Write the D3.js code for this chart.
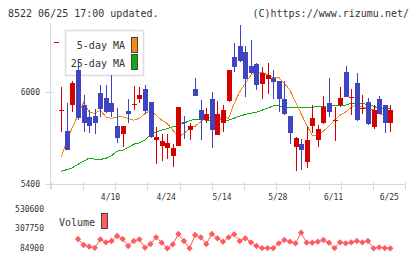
<!DOCTYPE html>
<html>
<head>
<meta charset="utf-8">
<script src="https://cdn.jsdelivr.net/npm/d3@7"></script>
<style>
  body { margin: 0; background: #fff; }
  svg { display: block; }
  text { font-family: "DejaVu Sans Mono", monospace; fill: #333; }
</style>
</head>
<body>
<div id="chart"></div>
<script>
// daily candles (60 trading days), red = up, blue = down
const open  = [5884,5747,5917,6146,5917,5838,5846,5995,5965,5930, 5779,5730,5877,5921,5956,6021,5938,5688,5649,5635,
               5583,5651,5808,5753,6021,5884,5823,5956,5721,5801, 5943,6229,6303,6261,6172,6185,6052,6087,6095,6074,
               5956,5845,5644,5666,5546,5779,5692,5797,5934,5817, 5917,6131,5969,6063,5893,5938,5775,5956,5917,5801];
const high  = [6034,5930,6074,6218,5982,5884,5891,6048,6048,6113, 5897,5779,5956,6043,6036,6048,5940,5773,5727,5727,
               5666,5906,5845,5801,6091,5949,5895,6000,5943,5917, 6148,6320,6438,6303,6342,6190,6163,6193,6146,6076,
               6074,5847,5707,5694,5779,5917,5786,5976,6091,5902, 6036,6172,6019,6124,5982,5961,5917,5976,5919,5917];
const low   = [5742,5622,5873,5819,5742,5734,5728,5838,5864,5840, 5670,5644,5797,5884,5928,5862,5700,5531,5552,5568,
               5513,5650,5699,5692,5976,5688,5797,5634,5719,5742, 5938,6131,6200,5971,6120,6015,5956,5989,5956,5873,
               5855,5662,5487,5496,5507,5732,5644,5795,5840,5683, 5902,5969,5851,5814,5858,5790,5760,5856,5732,5742];
const close = [5886,5622,6063,5834,5797,5781,5797,5894,5873,5873, 5703,5779,5856,5923,5982,5879,5709,5709,5681,5668,
               5635,5904,5797,5779,5978,5819,5862,5753,5862,5884, 6146,6167,6207,6087,6124,6048,6124,6113,6069,5954,
               5857,5732,5705,5622,5688,5836,5764,5906,5873,5819, 5961,5971,5971,5819,5895,5792,5884,5858,5801,5884];

const ma5  = [5579,5688,5773,5851,5936,5871,5862,5884,5840,5830, 5840,5840,5830,5819,5830,5862,5879,5851,5819,5797,
              5753,5709,5732,5764,5779,5808,5840,5836,5830,5840, 5830,5928,6004,6059,6113,6135,6131,6113,6098,6098,
              6059,6015,5938,5862,5786,5721,5721,5747,5779,5819, 5851,5873,5902,5921,5902,5895,5889,5862,5847,5847];
const ma25 = [5485,5496,5508,5531,5550,5572,5564,5562,5570,5586, 5616,5622,5640,5662,5670,5688,5727,5742,5753,5764,
              5775,5786,5801,5815,5825,5822,5819,5819,5822,5819, 5819,5832,5845,5856,5864,5871,5884,5897,5912,5912,
              5907,5902,5902,5902,5902,5902,5910,5910,5912,5913, 5917,5917,5928,5928,5928,5921,5910,5895,5895,5895];

const volume = [null,null,null,190000,122300,103000,90000,187000,153000,168000,
                224000,190000,111000,168000,187000,91700,133700,209700,148400,84900,
                130300,247000,168000,84900,235700,209700,133700,247000,198300,159800,
                209700,243700,168000,198300,153000,111000,87000,87000,87000,141600,
                179000,159800,141600,261800,148400,148400,159800,179000,148400,87000,
                153000,141600,153000,168000,153000,168000,84900,96200,87000,84900];

const dateLabels = ["4/10", "4/24", "5/14", "5/28", "6/11", "6/25"];
const dateIndex  = [9, 19, 29, 39, 49, 59];
const priceTicks = [5400, 6000];
const volTicks   = [84900, 307750, 530600];

const width = 420, height = 259;
const red = "#d70000", blue = "#3f44c0", orange = "#f28a16", green = "#14a814", volColor = "#ff5a60";
const axisColor = "#d9d9d9";

const svg = d3.select("#chart").append("svg")
    .attr("width", width)
    .attr("height", height);

svg.append("rect").attr("width", width).attr("height", height).attr("fill", "#fff");

const x = d3.scaleLinear().domain([0, 59]).range([61.3, 390.3]);
const y = d3.scaleLinear().domain([5400, 6440]).range([184.3, 25]);
const yv = d3.scaleLinear().domain([84900, 530600]).range([248.3, 209]);
const grid = d3.scaleLinear().domain([0, 11]).range([50.7, 405.3]);

// header
svg.append("text").attr("x", 8).attr("y", 17).style("font-size", "10px")
    .text("8522 06/25 17:00 updated.");
svg.append("text").attr("x", 409).attr("y", 17).attr("text-anchor", "end").style("font-size", "10px")
    .text("(C)https://www.rizumu.net/");

// axes
const axes = svg.append("g").attr("stroke", axisColor).attr("stroke-width", 1).attr("shape-rendering", "crispEdges");
axes.append("line").attr("x1", 50.5).attr("x2", 50.5).attr("y1", 23).attr("y2", 189);
axes.append("line").attr("x1", 50.5).attr("x2", 405.5).attr("y1", 184.5).attr("y2", 184.5);
axes.selectAll(".xt").data(d3.range(12)).enter().append("line")
    .attr("x1", d => Math.round(grid(d)) + 0.5).attr("x2", d => Math.round(grid(d)) + 0.5)
    .attr("y1", 181.5).attr("y2", 189.5);
axes.selectAll(".yt").data(priceTicks).enter().append("line")
    .attr("x1", 45).attr("x2", 54)
    .attr("y1", d => Math.round(y(d)) + 0.5).attr("y2", d => Math.round(y(d)) + 0.5);

svg.selectAll(".ylab").data(priceTicks).enter().append("text")
    .attr("x", 40).attr("y", d => y(d)).attr("dy", "0.35em")
    .attr("text-anchor", "end").style("font-size", "8px")
    .text(d => d);

svg.selectAll(".xlab").data(dateLabels).enter().append("text")
    .attr("x", (d, i) => x(dateIndex[i]) - 1).attr("y", 200)
    .attr("text-anchor", "middle").style("font-size", "8px")
    .text(d => d);

// legend
const lg = svg.append("g");
lg.append("rect").attr("x", 65.5).attr("y", 30.5).attr("width", 78).attr("height", 45)
    .attr("fill", "#fff").attr("stroke", "#dcdcdc").attr("stroke-width", 1.5);
lg.append("text").attr("x", 125).attr("y", 49).attr("text-anchor", "end").style("font-size", "10px").text("5-day MA");
lg.append("text").attr("x", 125).attr("y", 67).attr("text-anchor", "end").style("font-size", "10px").text("25-day MA");
lg.append("rect").attr("x", 131.5).attr("y", 37.5).attr("width", 6).attr("height", 15)
    .attr("fill", orange).attr("stroke", "#444");
lg.append("rect").attr("x", 131.5).attr("y", 54.5).attr("width", 6).attr("height", 15)
    .attr("fill", green).attr("stroke", "#444");
svg.append("line").attr("x1", 54).attr("x2", 59).attr("y1", 42.5).attr("y2", 42.5)
    .attr("stroke", red).attr("stroke-width", 1);

// moving averages
const idx = d3.range(open.length);
const line = arr => d3.line().x(i => x(i)).y(i => y(arr[i]));
svg.append("path").datum(idx).attr("d", line(ma25))
    .attr("fill", "none").attr("stroke", green).attr("stroke-width", 1).attr("shape-rendering", "crispEdges");
svg.append("path").datum(idx).attr("d", line(ma5))
    .attr("fill", "none").attr("stroke", orange).attr("stroke-width", 1).attr("shape-rendering", "crispEdges");

// candles
const bw = 5;
const candles = svg.append("g").attr("shape-rendering", "crispEdges")
    .selectAll("g").data(idx).enter().append("g");
candles.append("line")
    .attr("x1", i => Math.round(x(i)) + 0.5).attr("x2", i => Math.round(x(i)) + 0.5)
    .attr("y1", i => y(high[i])).attr("y2", i => y(low[i]))
    .attr("stroke", i => close[i] >= open[i] ? red : blue);
candles.append("rect")
    .attr("x", i => Math.round(x(i)) - 2)
    .attr("y", i => y(Math.max(open[i], close[i])))
    .attr("width", bw)
    .attr("height", i => Math.max(1, Math.abs(y(open[i]) - y(close[i]))))
    .attr("fill", i => close[i] >= open[i] ? red : blue);

// volume
const vidx = idx.filter(i => volume[i] != null);
svg.append("path").datum(vidx)
    .attr("d", d3.line().x(i => x(i)).y(i => yv(volume[i])))
    .attr("fill", "none").attr("stroke", volColor).attr("stroke-width", 1);
svg.selectAll(".vm").data(vidx).enter().append("path")
    .attr("d", d3.symbol().type(d3.symbolSquare).size(20))
    .attr("transform", i => `translate(${x(i)},${yv(volume[i])}) rotate(45)`)
    .attr("fill", volColor);

svg.selectAll(".vlab").data(volTicks).enter().append("text")
    .attr("x", 44).attr("y", d => yv(d)).attr("dy", "0.35em")
    .attr("text-anchor", "end").style("font-size", "8px")
    .text(d => d);

svg.append("text").attr("x", 59).attr("y", 226).style("font-size", "10px").text("Volume");
svg.append("rect").attr("x", 101.5).attr("y", 213.5).attr("width", 6).attr("height", 15)
    .attr("fill", volColor).attr("stroke", "#444");
</script>
</body>
</html>
